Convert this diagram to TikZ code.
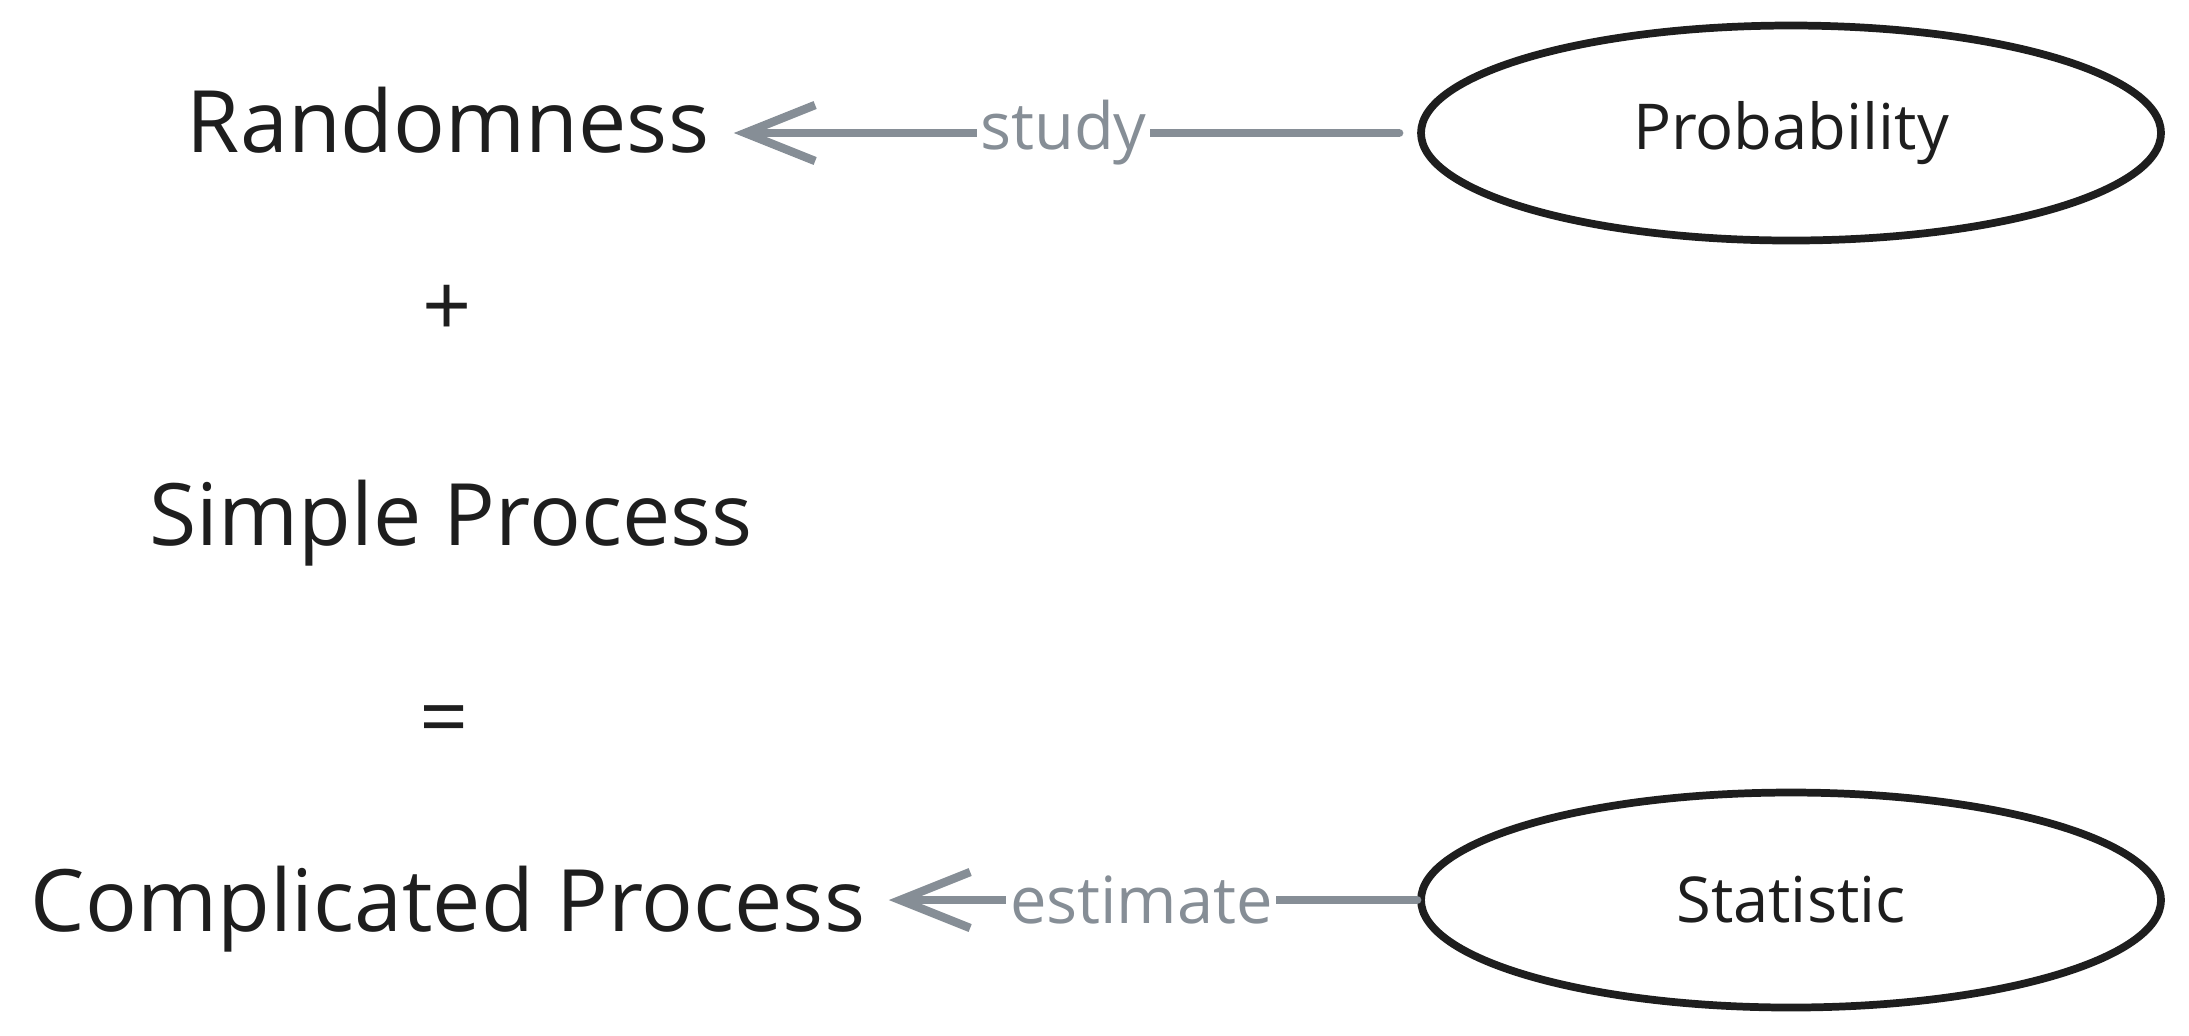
\documentclass[tikz,border=0pt]{standalone}
\usepackage{fontspec}
\setmainfont{Open Sans}
\usetikzlibrary{arrows.meta,shapes.geometric}
\definecolor{ink}{HTML}{1E1E1E}
\definecolor{linegray}{HTML}{868E96}

\begin{document}
\begin{tikzpicture}[
    term/.style={text=ink, font=\fontsize{24.5}{30}\selectfont, inner sep=0pt},
    oval/.style={ellipse, draw=ink, line width=2.2pt, minimum width=7.4cm, minimum height=2.15cm, text=ink, font=\fontsize{18}{22}\selectfont},
    conn/.style={draw=linegray, line width=2.4pt, line cap=round, -{Straight Barb[length=7mm,width=5.6mm]}},
    lbl/.style={fill=white, text=linegray, font=\fontsize{18.5}{23}\selectfont, inner sep=1pt}
]
    \useasboundingbox (0,0) rectangle (21.89,-10.35);

    % left column: the equation
    \node[term] (rand) at (4.48,-1.20) {Randomness};
    \node[term] (plus) at (4.47,-3.11) {+};
    \node[term] (simple) at (4.51,-5.23) {Simple Process};
    \node[term] (equals) at (4.44,-7.27) {=};
    \node[term] (compl) at (4.48,-9.09) {Complicated Process};

    % right column: the two fields
    \node[oval] (prob) at (17.91,-1.33) {Probability};
    \node[oval] (stat) at (17.91,-9.00) {Statistic};

    \draw[conn, shorten <=0.18cm, shorten >=0.24cm] (prob.west) -- node[lbl] {study} (prob.west -| rand.east);
    \draw[conn, shorten >=0.23cm] (stat.west) -- node[lbl] {estimate} (stat.west -| compl.east);
\end{tikzpicture}
\end{document}
